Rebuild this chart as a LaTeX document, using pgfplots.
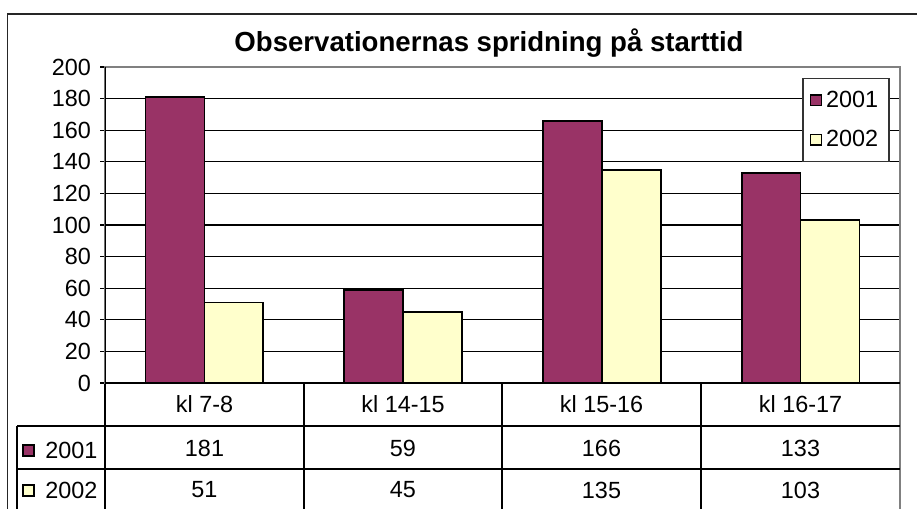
\documentclass[border=0pt]{standalone}
\usepackage{fontspec}
\setmainfont{Liberation Sans}
\usepackage{pgfplots}
\pgfplotsset{compat=1.18}
\definecolor{c2001}{HTML}{993366}
\definecolor{c2002}{HTML}{FFFFCC}
\definecolor{plotgray}{HTML}{808080}
\newcommand\fs{\fontsize{11.7}{13}\selectfont}

\begin{document}
\begin{tikzpicture}
% frame, title and data table (1 unit = 1 px of the reference)
\begin{scope}[x=0.5pt,y=-0.5pt]
\useasboundingbox (0,0) rectangle (917,509);
\clip (0,0) rectangle (917,509);
\fill[white] (0,0) rectangle (917,509);
\draw[line width=0.9pt, black!85] (7.5,14) rectangle (940,540);
\node[font=\bfseries\fontsize{13.8}{15}\selectfont] at (489,43) {Observationernas spridning på starttid};
% table grid
\draw[line width=0.6pt] (105,383) -- (105,520);
\foreach \xx in {304,502,701} \draw[line width=0.6pt] (\xx,383) -- (\xx,520);
\draw[line width=0.6pt, plotgray] (900,383) -- (900,520);
\draw[line width=0.6pt] (17,426) -- (900,426);
\draw[line width=0.6pt] (17,469) -- (900,469);
\draw[line width=0.6pt] (17,426) -- (17,520);
% category names
\foreach \xx/\lab in {204.5/kl 7-8, 403/kl 14-15, 601.5/kl 15-16, 800.5/kl 16-17}
  \node[font=\fs] at (\xx,404) {\lab};
% legend keys of the table
\draw[fill=c2001, line width=0.6pt] (23,445) rectangle (34,456);
\node[font=\fs, anchor=west, inner sep=0pt] at (45,450) {2001};
\draw[fill=c2002, line width=0.6pt] (23,485) rectangle (34,496);
\node[font=\fs, anchor=west, inner sep=0pt] at (45,490) {2002};
% values of the table
\foreach \xx/\a/\b in {204.5/181/51, 403/59/45, 601.5/166/135, 800.5/133/103}{
  \node[font=\fs] at (\xx,448) {\a};
  \node[font=\fs] at (\xx,490) {\b};
}
\end{scope}

\begin{axis}[
    at={(52.5pt,-191.5pt)}, anchor=south west,
    scale only axis, width=397.5pt, height=158pt,
    ybar=0pt, bar width=0.296,
    xmin=-0.5, xmax=3.5, xtick=\empty,
    ymin=0, ymax=200, ytick={0,20,...,200},
    ytick pos=left, tick align=outside, major tick length=2.5pt,
    tick style={black, line width=0.6pt},
    /pgf/number format/assume math mode=true,
    yticklabel style={font=\fs, xshift=-1pt},
    ymajorgrids, grid style={black, line width=0.6pt},
    axis line style={plotgray, line width=0.9pt},
    legend style={at={(0.987,0.965)}, anchor=north east, draw=black!80,
      line width=0.6pt, font=\fs, row sep=6pt, inner xsep=3.5pt, inner ysep=4pt},
    legend image code/.code={\draw[#1, draw=black, line width=0.6pt] (0pt,-2.7pt) rectangle (5.4pt,2.7pt);},
]
\addplot[fill=c2001, draw=black, line width=0.8pt] coordinates {(0,181) (1,59) (2,166) (3,133)};
\addplot[fill=c2002, draw=black, line width=0.8pt] coordinates {(0,51) (1,45) (2,135) (3,103)};
\legend{2001, 2002}
\draw[black, line width=0.7pt] (rel axis cs:0,0) -- (rel axis cs:0,1);
\draw[black, line width=0.7pt] (rel axis cs:0,0) -- (rel axis cs:1,0);
\end{axis}
\end{tikzpicture}
\end{document}
